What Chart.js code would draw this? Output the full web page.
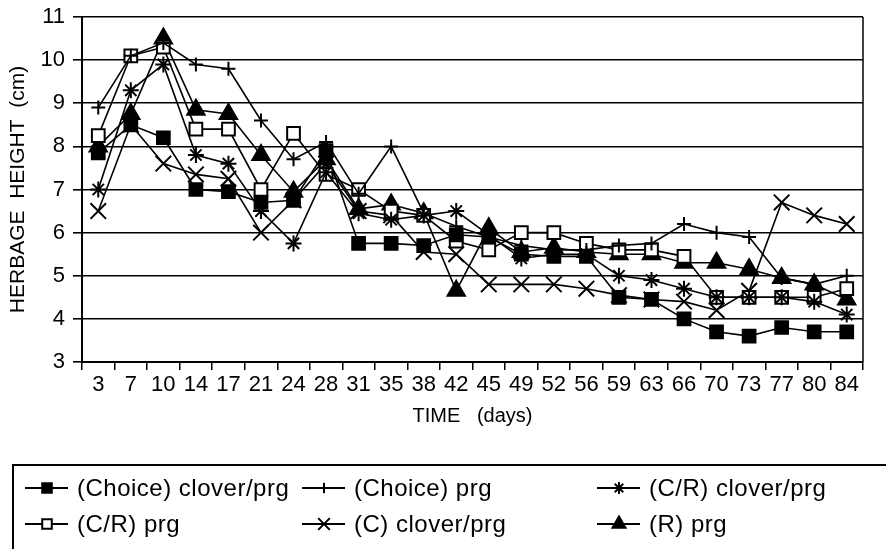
<!DOCTYPE html>
<html>
<head>
<meta charset="utf-8">
<script src="https://cdn.jsdelivr.net/npm/chart.js@4/dist/chart.umd.min.js"></script>
<style>
  body { margin: 0; background: #fff; }
  canvas { display: block; }
</style>
</head>
<body>
<canvas id="heightChart" width="886" height="549"></canvas>
<script>
var days = ["3", "7", "10", "14", "17", "21", "24", "28", "31", "35", "38", "42",
            "45", "49", "52", "56", "59", "63", "66", "70", "73", "77", "80", "84"];

var choiceClover = [7.85, 8.5, 8.2, 7.0, 6.95, 6.7, 6.75, 7.9, 5.75, 5.75, 5.7, 5.95,
                    5.9, 5.5, 5.45, 5.45, 4.5, 4.45, 4.0, 3.7, 3.6, 3.8, 3.7, 3.7];
var choicePrg = [8.9, 10.1, 10.4, 9.9, 9.8, 8.6, 7.7, 8.1, 6.9, 8.0, 6.45, 6.15,
                 5.9, 5.7, 5.6, 5.6, 5.7, 5.75, 6.2, 6.0, 5.9, 4.95, 4.8, 5.0];
var crClover = [7.0, 9.3, 9.9, 7.8, 7.6, 6.5, 5.75, 7.4, 6.45, 6.3, 6.4, 6.5,
                5.95, 5.4, 5.5, 5.5, 5.0, 4.9, 4.7, 4.5, 4.5, 4.5, 4.4, 4.1];
var crPrg = [8.25, 10.1, 10.3, 8.4, 8.4, 7.0, 8.3, 7.35, 7.0, 6.5, 6.4, 5.8,
             5.6, 6.0, 6.0, 5.75, 5.6, 5.6, 5.45, 4.5, 4.5, 4.5, 4.5, 4.7];
var cClover = [6.5, 8.5, 7.6, 7.35, 7.25, 6.0, 6.75, 7.6, 6.5, 6.4, 5.55, 5.5,
               4.8, 4.8, 4.8, 4.7, 4.55, 4.45, 4.4, 4.2, 4.65, 6.7, 6.4, 6.2];
var rPrg = [8.0, 8.75, 10.5, 8.85, 8.75, 7.8, 6.95, 7.7, 6.55, 6.65, 6.45, 4.65,
            6.1, 5.55, 5.65, 5.55, 5.5, 5.5, 5.3, 5.3, 5.15, 4.95, 4.8, 4.45];

var font = "'Liberation Sans', 'DejaVu Sans', sans-serif";

function series(label, data, style, radius, fill) {
  return {
    label: label,
    data: data,
    borderColor: "#000",
    borderWidth: 1.6,
    tension: 0,
    pointStyle: style,
    pointRadius: radius,
    pointHoverRadius: radius,
    pointBorderWidth: 2,
    pointBorderColor: "#000",
    pointBackgroundColor: fill
  };
}

// right frame line plus the boxed legend under the plot
var frameAndLegend = {
  id: "frameAndLegend",
  afterDraw: function (chart) {
    var ctx = chart.ctx;
    var area = chart.chartArea;
    ctx.save();
    ctx.strokeStyle = "#000";
    ctx.lineWidth = 1.5;
    ctx.beginPath();
    ctx.moveTo(area.right, area.top);
    ctx.lineTo(area.right, area.bottom);
    ctx.stroke();

    ctx.lineWidth = 2;
    ctx.strokeRect(13, 465, 900, 120);

    var cols = [25, 302, 597];
    var rows = [488, 524];
    ctx.font = "24px " + font;
    ctx.textBaseline = "middle";
    ctx.letterSpacing = "0.5px";
    chart.data.datasets.forEach(function (ds, i) {
      var x = cols[i % 3];
      var y = rows[Math.floor(i / 3)];
      ctx.lineWidth = 2;
      ctx.beginPath();
      ctx.moveTo(x, y);
      ctx.lineTo(x + 43, y);
      ctx.stroke();
      ctx.fillStyle = ds.pointBackgroundColor;
      Chart.helpers.drawPoint(ctx, {
        pointStyle: ds.pointStyle,
        radius: ds.pointRadius * 0.75,
        borderWidth: 2,
        rotation: 0
      }, x + 22, y);
      ctx.fillStyle = "#000";
      ctx.fillText(ds.label, x + 52, y + 1);
    });
    ctx.restore();
  }
};

var ctx = document.getElementById("heightChart");

var myChart = new Chart(ctx, {
  type: "line",
  data: {
    labels: days,
    datasets: [
      series("(Choice) clover/prg", choiceClover, "rect", 9, "#000"),
      series("(Choice) prg", choicePrg, "cross", 7, "#000"),
      series("(C/R) clover/prg", crClover, "star", 8, "#000"),
      series("(C/R) prg", crPrg, "rect", 9, "#fff"),
      series("(C) clover/prg", cClover, "crossRot", 11, "#000"),
      series("(R) prg", rPrg, "triangle", 10, "#000")
    ]
  },
  options: {
    responsive: false,
    animation: false,
    layout: { padding: { top: 17, right: 23, bottom: 117, left: 0 } },
    plugins: {
      legend: { display: false },
      tooltip: { enabled: false }
    },
    scales: {
      x: {
        offset: true,
        grid: {
          offset: true,
          drawOnChartArea: false,
          drawTicks: true,
          tickLength: 8,
          color: "#000",
          lineWidth: 1.5
        },
        border: { color: "#000", width: 2 },
        ticks: {
          color: "#000",
          font: { family: font, size: 22 },
          maxRotation: 0,
          autoSkip: false,
          padding: 2
        },
        title: {
          display: true,
          text: "TIME   (days)",
          color: "#000",
          font: { family: font, size: 20 },
          padding: { top: 2 }
        },
        afterFit: function (scale) { scale.height = 70; }
      },
      y: {
        min: 3,
        max: 11,
        ticks: {
          stepSize: 1,
          color: "#000",
          font: { family: font, size: 22 },
          padding: 8
        },
        grid: { color: "#000", lineWidth: 1.6, tickLength: 9 },
        border: { color: "#000", width: 2 },
        title: {
          display: true,
          text: "HERBAGE  HEIGHT  (cm)",
          color: "#000",
          font: { family: font, size: 21 },
          padding: { top: 6, bottom: 4 }
        },
        afterFit: function (scale) {
          scale.width = 82;
          scale.paddingTop = 0;
          scale.paddingBottom = 0;
        }
      }
    }
  },
  plugins: [frameAndLegend]
});
</script>
</body>
</html>
